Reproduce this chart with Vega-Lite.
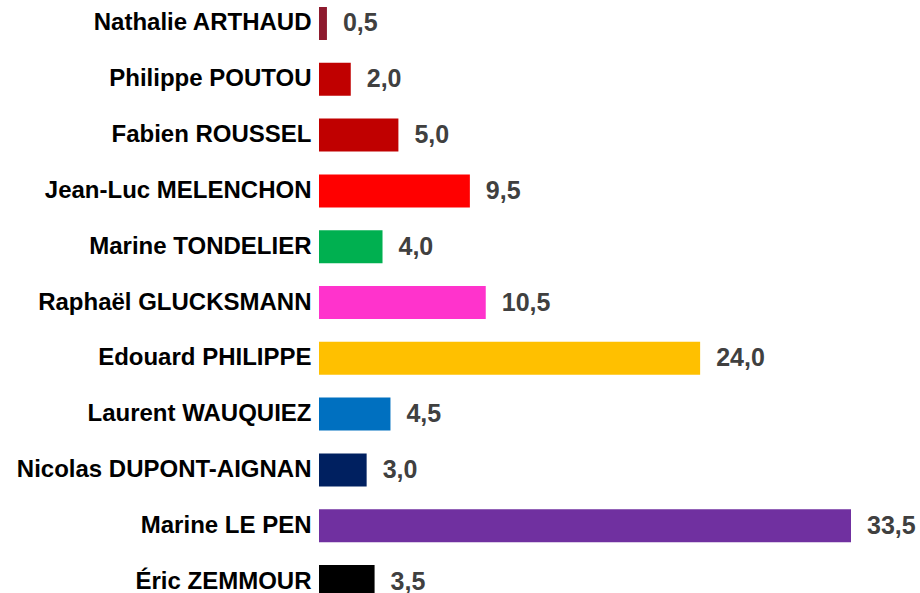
{
  "$schema": "https://vega.github.io/schema/vega-lite/v6.json",
  "autosize": "none",
  "width": 532,
  "height": 605,
  "padding": {"left": 319, "top": 0, "right": 69, "bottom": 0},
  "background": "white",
  "config": {
    "view": {"stroke": null},
    "locale": {"number": {"decimal": ",", "thousands": " ", "grouping": [3], "currency": ["", " €"]}}
  },
  "data": {
    "values": [
      {"candidat": "Nathalie ARTHAUD", "score": 0.5, "couleur": "#8E1B2E"},
      {"candidat": "Philippe POUTOU", "score": 2.0, "couleur": "#C00000"},
      {"candidat": "Fabien ROUSSEL", "score": 5.0, "couleur": "#C00000"},
      {"candidat": "Jean-Luc MELENCHON", "score": 9.5, "couleur": "#FF0000"},
      {"candidat": "Marine TONDELIER", "score": 4.0, "couleur": "#00B050"},
      {"candidat": "Raphaël GLUCKSMANN", "score": 10.5, "couleur": "#FF33CC"},
      {"candidat": "Edouard PHILIPPE", "score": 24.0, "couleur": "#FFC000"},
      {"candidat": "Laurent WAUQUIEZ", "score": 4.5, "couleur": "#0070C0"},
      {"candidat": "Nicolas DUPONT-AIGNAN", "score": 3.0, "couleur": "#002060"},
      {"candidat": "Marine LE PEN", "score": 33.5, "couleur": "#7030A0"},
      {"candidat": "Éric ZEMMOUR", "score": 3.5, "couleur": "#000000"}
    ]
  },
  "encoding": {
    "y": {
      "field": "candidat",
      "type": "nominal",
      "sort": null,
      "scale": {"paddingInner": 0.409, "paddingOuter": 0.1254},
      "axis": {
        "title": null,
        "domain": false,
        "ticks": false,
        "labelPadding": 8,
        "labelFont": "Liberation Sans",
        "labelFontWeight": "bold",
        "labelFontSize": 24,
        "labelColor": "#000000",
        "labelLimit": 400
      }
    },
    "x": {
      "field": "score",
      "type": "quantitative",
      "scale": {"domain": [0, 33.5], "nice": false, "zero": true},
      "axis": null
    }
  },
  "layer": [
    {
      "mark": {"type": "bar"},
      "encoding": {
        "color": {"field": "couleur", "type": "nominal", "scale": null, "legend": null}
      }
    },
    {
      "mark": {
        "type": "text",
        "align": "left",
        "baseline": "middle",
        "dx": 16,
        "font": "Liberation Sans",
        "fontWeight": "bold",
        "fontSize": 25,
        "color": "#404040"
      },
      "encoding": {
        "text": {"field": "score", "type": "quantitative", "format": ".1f"}
      }
    }
  ]
}
